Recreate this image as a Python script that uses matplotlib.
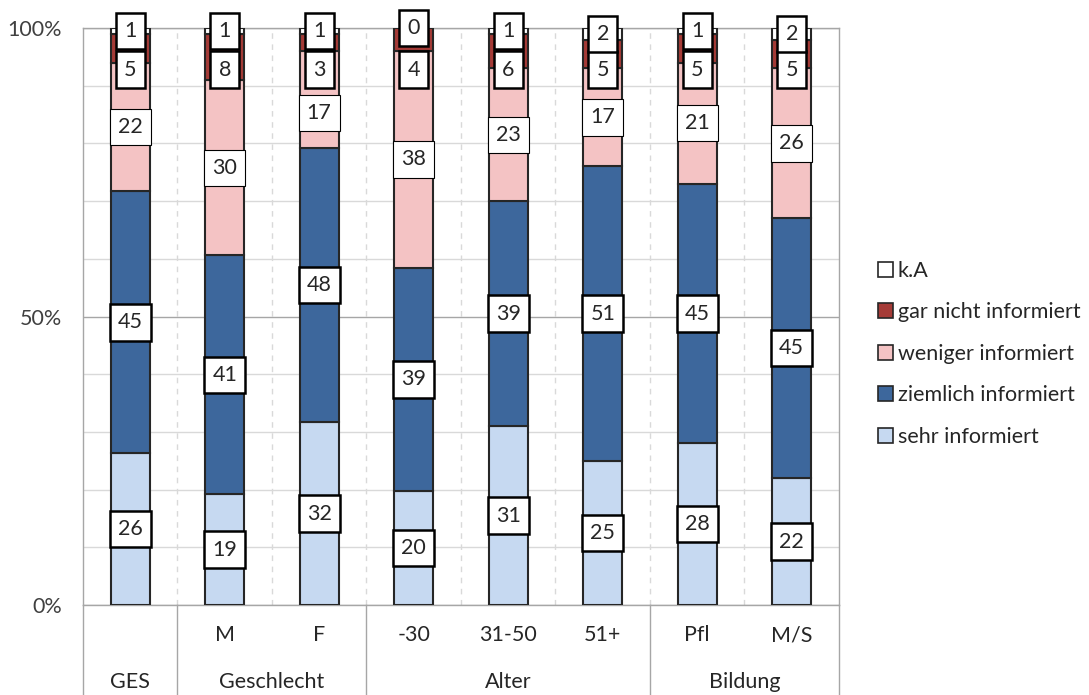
import numpy as np
import matplotlib
matplotlib.use("Agg")
import matplotlib.pyplot as plt
from matplotlib.patches import Patch
from matplotlib.transforms import blended_transform_factory

plt.rcParams['font.family'] = ['Lato', 'DejaVu Sans']

# Survey answers per subgroup (percent, rounded)
categories = ["", "M", "F", "-30", "31-50", "51+", "Pfl", "M/S"]
groups = ["GES", "Geschlecht", "Alter", "Bildung"]
group_sizes = [1, 2, 3, 2]

sehr = [26, 19, 32, 20, 31, 25, 28, 22]
ziemlich = [45, 41, 48, 39, 39, 51, 45, 45]
weniger = [22, 30, 17, 38, 23, 17, 21, 26]
gar_nicht = [5, 8, 3, 4, 6, 5, 5, 5]
keine_angabe = [1, 1, 1, 0, 1, 2, 1, 2]

series = [
    ("sehr informiert", sehr, "#C6D9F1", 1.8),
    ("ziemlich informiert", ziemlich, "#3D679C", 1.8),
    ("weniger informiert", weniger, "#F4C3C4", 0.8),
    ("gar nicht informiert", gar_nicht, "#A53B37", 1.8),
    ("k.A", keine_angabe, "#FFFFFF", 1.8),
]

FS = 15.5
# highest label position for the thin top segments, so boxes don't collide
label_cap = {"gar nicht informiert": 0.928, "weniger informiert": 0.853}

fig = plt.figure(figsize=(10.89, 6.95), dpi=100)
ax = fig.add_axes([0.0762, 0.1295, 0.6942, 0.8302])

x = np.arange(len(categories))
totals = np.sum([s[1] for s in series], axis=0)
bottom = np.zeros(len(categories))

# 100% stacked bars
for name, vals, color, box_lw in series:
    frac = np.array(vals) / totals
    ax.bar(x, frac, bottom=bottom, width=0.41, color=color,
           edgecolor="#262626", linewidth=1.5, zorder=3)
    for xi, b, f, v in zip(x, bottom, frac, vals):
        y = min(b + f / 2, label_cap.get(name, 1.0))
        ax.text(xi, y, str(v), ha="center", va="center",
                fontsize=FS, color="#262626", zorder=5, clip_on=False,
                bbox=dict(boxstyle="square,pad=0.38", fc="white",
                          ec="black", lw=box_lw))
    bottom += frac

ax.set_xlim(-0.5, len(categories) - 0.5)
ax.set_ylim(0, 1)

# gridlines
ax.set_yticks([0, 0.5, 1])
ax.set_yticklabels(["0%", "50%", "100%"])
ax.set_yticks(np.arange(0, 1.01, 0.1), minor=True)
ax.grid(which="minor", axis="y", color="#D9D9D9", linewidth=1, zorder=0)
ax.grid(which="major", axis="y", color="#A6A6A6", linewidth=1, zorder=0)
for b in np.arange(0.5, len(categories) - 0.5, 1):
    ax.axvline(b, color="#D9D9D9", linestyle=(0, (4, 4)), linewidth=1, zorder=0)

ax.tick_params(axis="both", which="both", length=0)
ax.tick_params(axis="y", labelsize=FS, labelcolor="#404040", pad=15)
ax.set_xticks([])
for sp in ax.spines.values():
    sp.set_color("#A6A6A6")
    sp.set_linewidth(1)

# two-level category axis
trans = blended_transform_factory(ax.transData, ax.transAxes)
for xi, lab in zip(x, categories):
    ax.text(xi, -0.052, lab, transform=trans, ha="center", va="center",
            fontsize=FS, color="#262626")

start = 0
edges = [-0.5]
for g, n in zip(groups, group_sizes):
    mid = start + (n - 1) / 2
    ax.text(mid, -0.133, g, transform=trans, ha="center", va="center",
            fontsize=FS, color="#262626")
    start += n
    edges.append(start - 0.5)
for e in edges:
    ax.plot([e, e], [0, -0.16], transform=trans, color="#A6A6A6",
            linewidth=1, clip_on=False)

# legend, top entry k.A
handles = [Patch(facecolor=c, edgecolor="#262626", linewidth=1.2, label=n)
           for n, v, c, lw in series[::-1]]
fig.legend(handles=handles, loc="center left", bbox_to_anchor=(0.788, 0.491),
           frameon=False, fontsize=FS, handlelength=0.7, handleheight=0.7,
           handletextpad=0.25, labelspacing=1.0, labelcolor="#262626")

fig.savefig("out.png", dpi=100)
